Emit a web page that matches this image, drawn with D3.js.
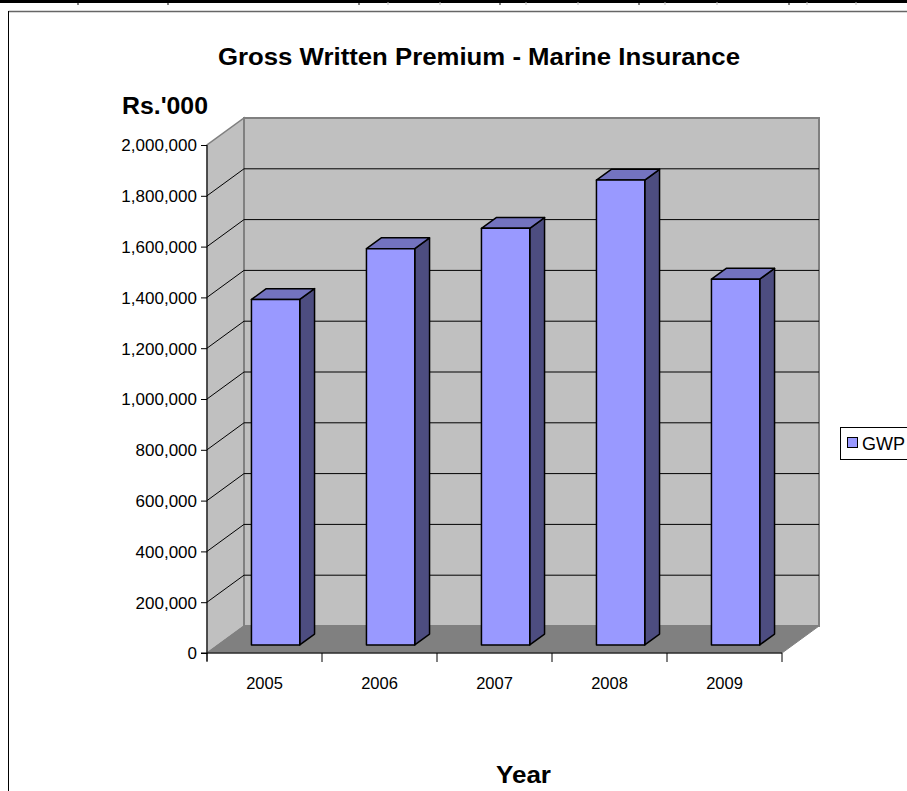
<!DOCTYPE html>
<html><head><meta charset="utf-8">
<script src="https://cdn.jsdelivr.net/npm/d3@7"></script>
<style>html,body{margin:0;padding:0;background:#fff;overflow:hidden}svg{display:block}</style>
</head><body>
<script>
const years = ["2005","2006","2007","2008","2009"];
const gwp = [1360000, 1560000, 1640000, 1830000, 1440000];
const yTicks = [0,200000,400000,600000,800000,1000000,1200000,1400000,1600000,1800000,2000000];
const seriesName = "GWP";
const title = "Gross Written Premium - Marine Insurance";
const yTitle = "Rs.'000";
const xTitle = "Year";

const W = 907, H = 791;
const svg = d3.select("body").append("svg").attr("width", W).attr("height", H);
const font = "'Liberation Sans', Arial, sans-serif";

// top table border remnants
svg.append("rect").attr("x",0).attr("y",0).attr("width",W).attr("height",3).attr("fill","#000");
[78,168,359,500,639,789].forEach(x=>svg.append("line").attr("x1",x).attr("x2",x).attr("y1",2).attr("y2",5).attr("stroke","#000"));
[388,440,526,578,665,717,807,856].forEach(x=>svg.append("line").attr("x1",x).attr("x2",x).attr("y1",2).attr("y2",5).attr("stroke","#bbb"));
// chart frame
svg.append("line").attr("x1",8.5).attr("x2",W).attr("y1",11.5).attr("y2",11.5).attr("stroke","#666").attr("stroke-width",1.5);
svg.append("line").attr("x1",8.5).attr("x2",8.5).attr("y1",11).attr("y2",H).attr("stroke","#000");

const x0 = 207, x1 = 782, yBase = 653, yTop = 145;
const DX = 37, DY = -27;
const y = d3.scaleLinear().domain([0,2000000]).range([yBase,yTop]);
const x = d3.scaleBand().domain(years).range([x0,x1]).paddingInner(0.58).paddingOuter(0.29);

const poly = pts => pts.map(p=>p.join(",")).join(" ");
// left wall
svg.append("polygon").attr("points", poly([[x0,yBase],[x0+DX,yBase+DY],[x0+DX,yTop+DY],[x0,yTop]]))
  .attr("fill","#c0c0c0").attr("stroke","#808080").attr("stroke-width",1.5);
// back wall
svg.append("polygon").attr("points", poly([[x0+DX,yBase+DY],[x1+DX,yBase+DY],[x1+DX,yTop+DY],[x0+DX,yTop+DY]]))
  .attr("fill","#c0c0c0").attr("stroke","#808080").attr("stroke-width",2);
// floor
svg.append("polygon").attr("points", poly([[x0,yBase],[x1,yBase],[x1+DX,yBase+DY],[x0+DX,yBase+DY]]))
  .attr("fill","#808080").attr("stroke","#808080");
// gridlines
yTicks.filter(t=>t>0 && t<2000000).forEach(t=>{
  const yy = y(t);
  svg.append("line").attr("x1",x0+DX).attr("x2",x1+DX).attr("y1",yy+DY).attr("y2",yy+DY).attr("stroke","#000").attr("stroke-width",1);
  svg.append("line").attr("x1",x0).attr("x2",x0+DX).attr("y1",yy).attr("y2",yy+DY).attr("stroke","#000").attr("stroke-width",1);
});

// bars
const d1 = 0.3, d2 = 0.7;
years.forEach((yr,i)=>{
  const bx = x(yr), bw = x.bandwidth();
  const fx = bx + d1*DX, fy = d1*DY;
  const ox = (d2-d1)*DX, oy = (d2-d1)*DY;
  const top = y(gwp[i]) + fy, bot = y(0) + fy;
  const g = svg.append("g").attr("stroke","#000").attr("stroke-width",1.5).attr("stroke-linejoin","round");
  g.append("polygon").attr("points", poly([[fx+bw,top],[fx+bw+ox,top+oy],[fx+bw+ox,bot+oy],[fx+bw,bot]])).attr("fill","#4d4d80");
  g.append("polygon").attr("points", poly([[fx,top],[fx+bw,top],[fx+bw+ox,top+oy],[fx+ox,top+oy]])).attr("fill","#7373bf");
  g.append("rect").attr("x",fx).attr("y",top).attr("width",bw).attr("height",bot-top).attr("fill","#9999ff");
});

// y axis
const yAxis = d3.axisLeft(y).tickValues(yTicks).tickSize(6).tickPadding(4).tickFormat(d3.format(","));
const ya = svg.append("g").attr("transform",`translate(${x0},0)`).call(yAxis);
ya.select(".domain").remove();
svg.append("line").attr("x1",x0).attr("x2",x0).attr("y1",yTop).attr("y2",yBase+8).attr("stroke","#000");
ya.selectAll("line").attr("stroke","#000");
ya.selectAll("text").attr("font-family",font).attr("font-size",17).attr("fill","#000").attr("dy","0.35em");

// x axis
const xa = svg.append("g").attr("transform",`translate(0,${yBase})`)
  .call(d3.axisBottom(x).tickSize(0).tickPadding(24));
xa.select(".domain").remove();
svg.append("line").attr("x1",x0-6).attr("x2",x1).attr("y1",yBase).attr("y2",yBase).attr("stroke","#000");
d3.range(years.length+1).forEach(i=>{
  const xx = x0 + i*x.step();
  svg.append("line").attr("x1",xx).attr("x2",xx).attr("y1",yBase).attr("y2",yBase+9).attr("stroke","#000");
});
xa.selectAll("text").attr("font-family",font).attr("font-size",16.5).attr("fill","#000");

// titles
svg.append("text").attr("x",218).attr("y",65).attr("font-family",font)
  .attr("font-weight","bold").attr("font-size",23.5).attr("textLength",522).attr("lengthAdjust","spacingAndGlyphs").text(title);
svg.append("text").attr("x",122).attr("y",114).attr("font-family",font)
  .attr("font-weight","bold").attr("font-size",23.5).attr("textLength",86).attr("lengthAdjust","spacingAndGlyphs").text(yTitle);
svg.append("text").attr("x",496).attr("y",783).attr("font-family",font)
  .attr("font-weight","bold").attr("font-size",23.5).attr("textLength",55).attr("lengthAdjust","spacingAndGlyphs").text(xTitle);

// legend
svg.append("rect").attr("x",840.5).attr("y",427.5).attr("width",80).attr("height",32).attr("fill","#fff").attr("stroke","#000");
svg.append("rect").attr("x",847.5).attr("y",437.5).attr("width",10).attr("height",10).attr("fill","#9999ff").attr("stroke","#000");
svg.append("text").attr("x",862).attr("y",450).attr("font-family",font).attr("font-size",18).text(seriesName);
</script>
</body></html>
